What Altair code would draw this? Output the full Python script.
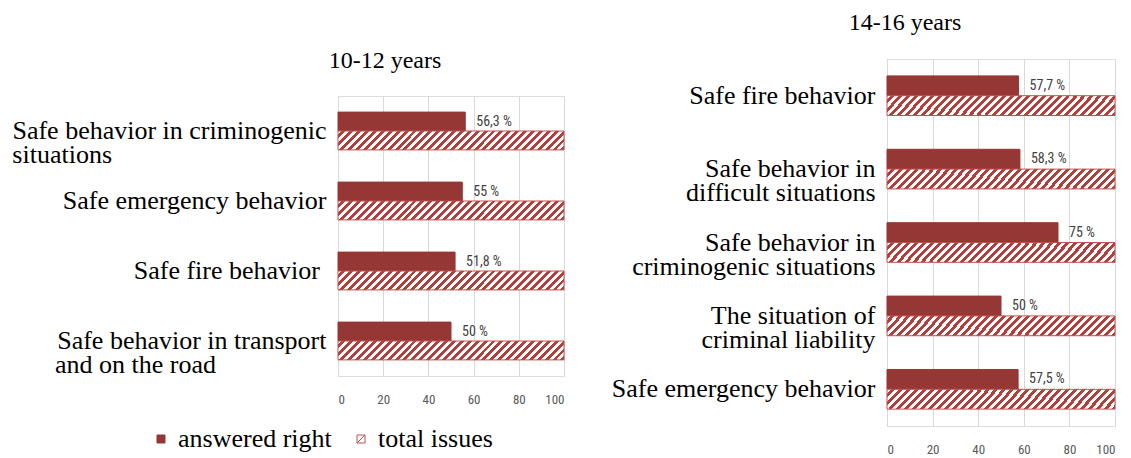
import altair as alt
import pandas as pd

NB = "\u00a0"
ZW = "\u200b"

series = ["answered right", "total issues"]

# 10-12 years (top to bottom)
left_categories = [
    "Safe behavior in criminogenic|situations" + NB * 33 + ZW,
    "Safe emergency behavior",
    "Safe fire behavior" + NB + ZW,
    "Safe behavior in transport|and on the road" + NB * 17 + ZW,
]
left_answered = [56.3, 55, 51.8, 50]
left_total = [100, 100, 100, 100]

# 14-16 years (top to bottom)
right_categories = [
    "Safe fire behavior",
    "Safe behavior in|difficult situations",
    "Safe behavior in|criminogenic situations",
    "The situation of|criminal liability",
    "Safe emergency behavior",
]
right_answered = [57.7, 58.3, 75, 50, 57.5]
right_total = [100, 100, 100, 100, 100]

x_ticks = [0, 20, 40, 60, 80, 100]

SOLID = "#953735"
HATCH = "#B23F3B"
BORDER = "#C0504D"
SERIF = "Liberation Serif"
NARROW = "Liberation Sans Narrow, Roboto Condensed, Liberation Sans, sans-serif"


def make_df(cats, answered, total):
    rows = []
    for c, a, t in zip(cats, answered, total):
        rows.append({"category": c, "series": series[0], "value": a})
        rows.append({"category": c, "series": series[1], "value": t})
    return pd.DataFrame(rows)


def hatch_gradient(ratio, periods):
    k = (1 + 1 / ratio) / (1 + 1 / ratio ** 2)
    stops = []
    for i in range(periods):
        a = i / periods
        m = (i + 0.5) / periods
        b = (i + 1) / periods
        stops += [
            {"offset": a, "color": "white"},
            {"offset": m, "color": "white"},
            {"offset": m, "color": HATCH},
            {"offset": b, "color": HATCH},
        ]
    return {"gradient": "linear", "x1": 0, "y1": 0, "x2": k, "y2": k / ratio, "stops": stops}


def title_params(text, dx, offset, orient="top"):
    return alt.TitleParams(
        text=text,
        font=SERIF,
        fontSize=24,
        fontWeight="normal",
        color="black",
        anchor="middle",
        orient=orient,
        dx=dx,
        offset=offset,
    )


def panel(df, cats, width, height, with_legend):
    base = alt.Chart(df)
    y = alt.Y(
        "category:N",
        sort=cats,
        scale=alt.Scale(paddingInner=0.46, paddingOuter=0.23),
        axis=alt.Axis(
            title=None,
            labelExpr="split(datum.label, '|')",
            labelFont=SERIF,
            labelFontSize=26,
            labelLineHeight=24,
            labelColor="black",
            labelPadding=12,
            labelLimit=0,
            ticks=False,
            domain=False,
            grid=False,
        ),
    )
    yoff = alt.YOffset("series:N", sort=series, scale=alt.Scale(paddingInner=0, paddingOuter=0))
    x = alt.X(
        "value:Q",
        scale=alt.Scale(domain=[0, 100], nice=False),
        axis=alt.Axis(
            title=None,
            values=x_ticks,
            grid=True,
            gridColor="#D9D9D9",
            domain=False,
            ticks=False,
            labelFont=NARROW,
            labelFontSize=13,
            labelColor="#595959",
            labelPadding=17,
        ),
    )
    grad = hatch_gradient(12.0, 31)
    bars = base.mark_bar(strokeWidth=1).encode(
        x=x,
        y=y,
        yOffset=yoff,
        fill=alt.condition(alt.datum.series == series[1], alt.value(grad), alt.value(SOLID)),
        stroke=alt.condition(alt.datum.series == series[1], alt.value(BORDER), alt.value(SOLID)),
    )
    labels = (
        base.transform_filter(alt.datum.series == series[0])
        .transform_calculate(label="replace(toString(datum.value), '.', ',') + ' %'")
        .mark_text(align="left", baseline="middle", dx=11, font=NARROW, fontSize=14, color="#404040")
        .encode(x="value:Q", y=alt.Y("category:N", sort=cats), yOffset=alt.YOffset("series:N", sort=series), text="label:N")
    )
    layers = [bars, labels]
    if with_legend:
        leg = alt.Legend(
            title=None,
            orient="none",
            legendX=-190,
            legendY=330,
            direction="horizontal",
            labelFont=SERIF,
            labelFontSize=26,
            labelColor="black",
            symbolSize=64,
            symbolStrokeWidth=1,
            columnPadding=16,
            labelOffset=4,
            labelLimit=0,
        )
        dummy = (
            base.transform_filter("false")
            .mark_point(filled=True, size=64, strokeWidth=1, opacity=1)
            .encode(
                fill=alt.Fill("series:N", scale=alt.Scale(domain=series, range=[SOLID, "white"]), legend=leg),
                stroke=alt.Stroke("series:N", scale=alt.Scale(domain=series, range=[SOLID, BORDER]), legend=leg),
                shape=alt.Shape(
                    "series:N",
                    scale=alt.Scale(domain=series, range=["square", "M-1,-1H1V1H-1Z M-1,1L1,-1"]),
                    legend=leg,
                ),
            )
        )
        layers.append(dummy)
    return alt.layer(*layers).properties(width=width, height=height)


left = panel(make_df(left_categories, left_answered, left_total), left_categories, 226, 280, True)
right = panel(make_df(right_categories, right_answered, right_total), right_categories, 228, 367, False).properties(
    title=title_params("14-16 years", -96, 24)
)

# empty holder carrying the left title, so the left panel sits lower than the right one
holder = (
    alt.Chart(pd.DataFrame({"t": [0]}))
    .mark_text(text="", opacity=0)
    .encode(x=alt.X("t:Q", axis=None), y=alt.Y("t:Q", axis=None))
    .properties(
        width=226,
        height=1,
        view=alt.ViewBackground(stroke="transparent", fill="transparent", strokeWidth=0),
        title=title_params("10-12 years", -66, -16, orient="bottom"),
    )
)

left_col = alt.vconcat(holder, left, spacing=22).resolve_scale(
    x="independent", y="independent", fill="independent", stroke="independent", shape="independent"
)

chart = (
    alt.concat(left_col, right, columns=2, spacing=45)
    .resolve_scale(x="independent", y="independent", yOffset="independent")
    .properties(padding={"left": 3, "top": 2, "right": 2, "bottom": 2})
    .configure_view(stroke=None)
    .configure(background="white")
)

chart.save("out.html", embed_options={"renderer": "svg", "actions": False})
